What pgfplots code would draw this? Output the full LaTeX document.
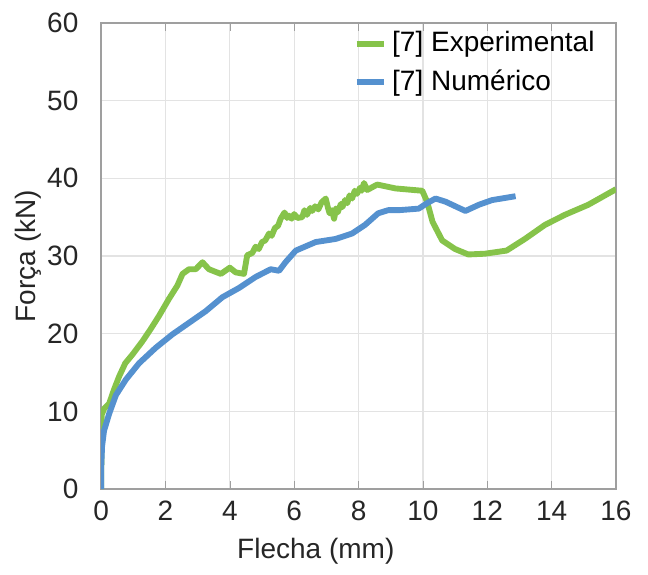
\documentclass[border=0pt]{standalone}
\usepackage{pgfplots}
\pgfplotsset{compat=1.18}
\usepackage{fontspec}
\setmainfont{Liberation Sans}
\definecolor{expgreen}{HTML}{86C34A}
\definecolor{numblue}{HTML}{5591CF}
\begin{document}
\begin{tikzpicture}
\begin{axis}[
  scale only axis,
  width=193pt, height=174.75pt,
  xmin=0, xmax=16, ymin=0, ymax=60,
  xtick={0,2,...,16}, ytick={0,10,...,60},
  grid=major,
  major grid style={gray!22, line width=0.5pt},
  axis line style={gray!75, line width=0.6pt},
  tick style={gray!75},
  ytick style={draw=none},
  xtick align=inside,
  major tick length=3pt,
  tick label style={font=\fontsize{10.5}{12}\selectfont, text=black!85},
  /pgf/number format/assume math mode=true,
  xticklabel style={yshift=-1pt},
  yticklabel style={xshift=-5pt},
  xlabel={Flecha (mm)},
  ylabel={Força (kN)},
  label style={font=\fontsize{10.5}{12}\selectfont, text=black!85},
  xlabel style={at={(axis description cs:0.417,0)}, anchor=center, yshift=-23.3pt},
  ylabel style={at={(axis description cs:0,0.5)}, anchor=center, yshift=27.4pt},
  legend style={draw=none, fill=none, at={(0.975,1.0)}, anchor=north east,
    font=\fontsize{10.5}{12}\selectfont, row sep=1.2pt, inner sep=1pt,
    /tikz/every even column/.append style={column sep=1pt}},
  legend cell align=left,
  legend image post style={line width=2.2pt},
  legend image code/.code={\draw[#1] (0cm,0cm) -- (0.36cm,0cm);},
]
\addplot[expgreen, line width=2.2pt, line join=round] coordinates {
(0,0)(0.02,9.6)(0.1,10.4)(0.25,11.0)(0.4,12.8)(0.56,14.5)(0.75,16.2)(0.97,17.3)
(1.28,19.0)(1.54,20.6)(1.8,22.3)(2.11,24.5)(2.37,26.2)(2.53,27.7)(2.73,28.3)
(2.94,28.3)(3.15,29.2)(3.35,28.3)(3.72,27.7)(4.0,28.5)(4.18,27.9)(4.44,27.7)
(4.54,30.1)(4.7,30.4)(4.8,31.2)(4.9,30.9)(5.0,31.8)(5.1,32.0)(5.22,32.9)(5.3,32.6)
(5.4,33.6)(5.5,33.9)(5.58,34.8)(5.7,35.6)(5.78,34.9)(5.84,35.2)(5.92,34.8)(6.0,35.4)
(6.1,34.9)(6.25,35.0)(6.32,35.9)(6.4,35.3)(6.5,36.2)(6.56,35.8)(6.65,36.4)(6.75,36.0)
(6.85,36.9)(6.98,37.4)(7.05,36.2)(7.1,35.5)(7.17,35.9)(7.24,34.8)(7.3,36.1)(7.35,35.6)
(7.45,36.7)(7.5,36.3)(7.58,37.2)(7.65,36.8)(7.72,37.8)(7.8,37.4)(7.88,38.4)(7.95,38.0)
(8.05,38.8)(8.1,38.4)(8.17,39.4)(8.27,38.5)(8.58,39.2)(9.15,38.7)(9.98,38.4)(10.13,37.0)
(10.3,34.4)(10.6,32.0)(11.0,30.9)(11.41,30.2)(11.93,30.3)(12.6,30.7)(13.17,32.2)
(13.79,34.0)(14.41,35.3)(15.14,36.6)(16.0,38.6)
};
\addlegendentry{[7] Experimental}
\addplot[numblue, line width=2.2pt, line join=round] coordinates {
(0,0)(0.005,3)(0.03,5.5)(0.09,7.5)(0.25,9.7)(0.46,12.1)(0.77,14.1)(1.18,16.2)
(1.7,18.2)(2.21,19.9)(2.73,21.4)(3.25,22.9)(3.77,24.7)(4.29,25.9)(4.8,27.3)
(5.27,28.3)(5.53,28.1)(5.73,29.2)(6.05,30.7)(6.67,31.8)(7.29,32.2)(7.8,32.9)
(8.2,34.0)(8.61,35.5)(8.92,35.9)(9.25,35.9)(9.87,36.1)(10.13,36.8)(10.39,37.4)
(10.7,37.0)(11.32,35.8)(11.74,36.6)(12.15,37.2)(12.88,37.7)
};
\addlegendentry{[7] Numérico}
\end{axis}
\pgfresetboundingbox
\path (current axis.south west) ++(-37.9pt,-31.9pt) coordinate (bbA);
\path (current axis.north east) ++(12pt,8.6pt) coordinate (bbB);
\path[use as bounding box] (bbA) rectangle (bbB);
\end{tikzpicture}
\end{document}
